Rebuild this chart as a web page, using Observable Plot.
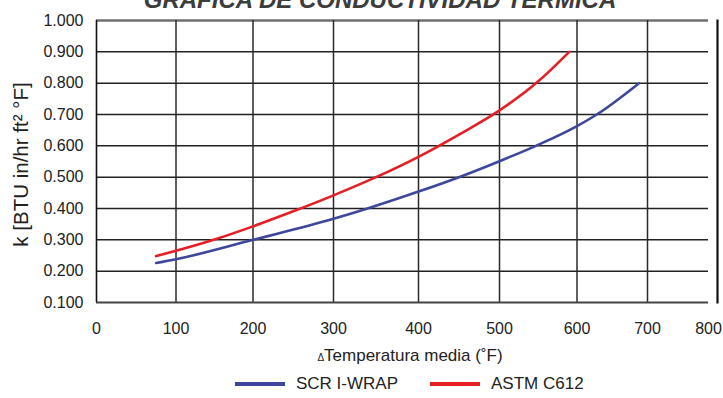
<!DOCTYPE html>
<html>
<head>
<meta charset="utf-8">
<script src="https://cdn.jsdelivr.net/npm/d3@7"></script>
<script src="https://cdn.jsdelivr.net/npm/@observablehq/plot@0.6"></script>
<style>
  body { margin: 0; background: #fff; }
  #wrap { position: relative; width: 723px; height: 398px; overflow: hidden; font-family: "Liberation Sans", Arial, sans-serif; color: #222; }
  #title { position: absolute; left: 0; width: 760px; top: -12px; text-align: center; font: italic bold 24px/24px "Liberation Sans", Arial, sans-serif; color: #3c3c3c; white-space: nowrap; }
  #chart { position: absolute; left: 0; top: 0; }
  #xtitle { position: absolute; left: 0; width: 820px; top: 346px; text-align: center; font-size: 17px; line-height: 20px; white-space: nowrap; }
  #xtitle .delta { font-size: 10px; }
  #legend { position: absolute; top: 374px; left: 0; height: 20px; font-size: 17px; line-height: 20px; white-space: nowrap; }
  .item { position: absolute; top: 0; display: flex; align-items: center; }
  .sw { width: 50px; height: 4px; margin-right: 11px; }
</style>
</head>
<body>
<div id="wrap">
  <div id="title"></div>
  <div id="chart"></div>
  <div id="xtitle"><span class="delta">Δ</span>Temperatura media (˚F)</div>
  <div id="legend"></div>
</div>
<script>
// ---- data ----
const chartTitle = "GRÁFICA DE CONDUCTIVIDAD TÉRMICA";
const yLabel = "k [BTU in/hr ft² °F]";
const seriesNames = ["SCR I-WRAP", "ASTM C612"];
const xTicks = [0, 100, 200, 300, 400, 500, 600, 700, 800];
const yTicks = [0.1, 0.2, 0.3, 0.4, 0.5, 0.6, 0.7, 0.8, 0.9, 1.0];

const scrTemp = [75, 100, 200, 300, 340, 400, 450, 500, 547, 600, 628, 688];
const scrK    = [0.226, 0.238, 0.300, 0.367, 0.400, 0.454, 0.500, 0.551, 0.600, 0.663, 0.700, 0.800];
const astmTemp = [75, 100, 150, 200, 250, 300, 350, 400, 450, 500, 550, 590];
const astmK    = [0.248, 0.265, 0.301, 0.343, 0.391, 0.442, 0.500, 0.565, 0.636, 0.713, 0.806, 0.900];

const seriesColors = ["#3e479b", "#e41f26"];

const rows = [
  ...scrTemp.map((t, i) => ({series: seriesNames[0], t, k: scrK[i]})),
  ...astmTemp.map((t, i) => ({series: seriesNames[1], t, k: astmK[i]}))
];

document.getElementById("title").textContent = chartTitle;

const fontFamily = '"Liberation Sans", Arial, sans-serif';
const x0 = xTicks[0], x1 = xTicks[xTicks.length - 1];

// the reference's x axis is slightly uneven: its grid columns have these relative widths
const xWarp = d3.scaleLinear().domain(xTicks).range([0, 79.5, 156.5, 237, 322, 403, 480.5, 551, 612]);

const chart = Plot.plot({
  width: 723,
  height: 342,
  marginTop: 20,
  marginBottom: 40,
  marginLeft: 96,
  marginRight: 6,
  style: {fontFamily, fontSize: "16px", color: "#222", background: "transparent", overflow: "visible"},
  x: {transform: xWarp, domain: [xWarp(x0), xWarp(x1)], range: [96, 708]},
  y: {domain: [yTicks[0], yTicks[yTicks.length - 1]]},
  color: {domain: seriesNames, range: seriesColors},
  marks: [
    Plot.ruleY(yTicks.slice(1, -1), {x1: x0, x2: x1, stroke: "#222", strokeWidth: 1.5}),
    Plot.ruleY(yTicks.slice(-1), {x1: x0, x2: x1, stroke: "#6f6f6f", strokeWidth: 2.4}),
    Plot.ruleX(xTicks.slice(1, -1), {stroke: "#2a2a2a", strokeWidth: 1.5}),
    Plot.ruleY(yTicks.slice(0, 1), {x1: x0, x2: x1, stroke: "#444", strokeWidth: 2}),
    Plot.ruleX(xTicks.slice(0, 1), {stroke: "#111", strokeWidth: 1.6}),
    Plot.frame({anchor: "right", stroke: "#111", strokeWidth: 2.2}),
    Plot.line(rows, {x: "t", y: "k", z: "series", stroke: "series", strokeWidth: 2.6, curve: "monotone-x"}),
    Plot.axisY(yTicks, {tickSize: 0, tickPadding: 13, tickFormat: d3.format(".3f"), label: null}),
    Plot.axisX(xTicks, {tickSize: 0, tickPadding: 20, tickFormat: d3.format("d"), label: null}),
    Plot.text([yLabel], {frameAnchor: "left", textAnchor: "middle", dx: -75, dy: 3, rotate: -90, fontSize: 20.5, fill: "#222"})
  ]
});
document.getElementById("chart").appendChild(chart);

// legend with line swatches
const legend = document.getElementById("legend");
const legendLeft = [235, 430];
seriesNames.forEach((name, i) => {
  const item = document.createElement("div");
  item.className = "item";
  item.style.left = legendLeft[i] + "px";
  const sw = document.createElement("div");
  sw.className = "sw";
  sw.style.background = seriesColors[i];
  const lab = document.createElement("span");
  lab.textContent = name;
  item.appendChild(sw);
  item.appendChild(lab);
  legend.appendChild(item);
});
</script>
</body>
</html>
